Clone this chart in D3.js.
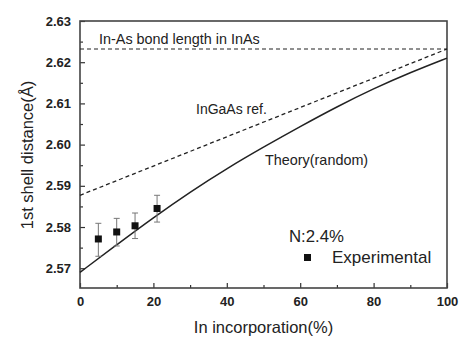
<!DOCTYPE html>
<html>
<head>
<meta charset="utf-8">
<script src="https://cdn.jsdelivr.net/npm/d3@7"></script>
<style>
  body { margin: 0; background: #fff; }
  text { font-family: "Liberation Sans", Arial, sans-serif; fill: #222; }
</style>
</head>
<body>
<div id="wrapper"></div>
<script>
// data
const xTicks = [0, 20, 40, 60, 80, 100];
const yTicks = [2.57, 2.58, 2.59, 2.60, 2.61, 2.62, 2.63];

const theoryX = [0, 10, 20, 30, 40, 50, 60, 70, 80, 90, 100];
const theoryY = [2.5690, 2.5757, 2.5823, 2.5885, 2.5942, 2.5994, 2.6044, 2.6092, 2.6136, 2.6175, 2.6210];

const refX = [0, 100];
const refY = [2.5877, 2.6232];

const inAsBond = 2.6232;

const expX = [5, 10, 15, 21];
const expY = [2.5771, 2.5788, 2.5803, 2.5845];
const expLow = [2.5729, 2.5754, 2.5772, 2.5812];
const expHigh = [2.5809, 2.5821, 2.5834, 2.5877];

async function drawChart() {
  // 1. dimensions
  let dimensions = {
    width: 459,
    height: 338,
    margin: { top: 21, right: 12, bottom: 50, left: 80 },
  };
  dimensions.boundedWidth = dimensions.width - dimensions.margin.left - dimensions.margin.right;
  dimensions.boundedHeight = dimensions.height - dimensions.margin.top - dimensions.margin.bottom;

  // 2. scales
  const xScale = d3.scaleLinear().domain([0, 100]).range([0, dimensions.boundedWidth]);
  const yScale = d3.scaleLinear().domain([2.5652, 2.63]).range([dimensions.boundedHeight, 0]);

  // 3. canvas
  const wrapper = d3.select("#wrapper")
    .append("svg")
    .attr("width", dimensions.width)
    .attr("height", dimensions.height);

  const bounds = wrapper.append("g")
    .attr("transform", `translate(${dimensions.margin.left},${dimensions.margin.top})`);

  // 4. axes (ticks point inward)
  const xAxis = d3.axisBottom(xScale).tickValues(xTicks).tickSize(-5).tickPadding(9).tickFormat(d3.format("d"));
  const xMinor = d3.axisBottom(xScale).tickValues(d3.range(10, 100, 20)).tickSize(-3).tickFormat("");
  const yAxis = d3.axisLeft(yScale).tickValues(yTicks).tickSize(-5).tickPadding(9).tickFormat(d3.format(".2f"));
  const yMinor = d3.axisLeft(yScale).tickValues([2.575, 2.585, 2.595, 2.605, 2.615, 2.625]).tickSize(-3).tickFormat("");

  const styleAxis = (g) => {
    g.select(".domain").remove();
    g.selectAll(".tick line").attr("stroke", "#333").attr("stroke-width", 1.2);
    g.selectAll(".tick text")
      .style("font-family", "'Liberation Sans', Arial, sans-serif")
      .style("font-size", "13px")
      .style("font-weight", "bold")
      .attr("fill", "#333");
  };

  bounds.append("g").attr("transform", `translate(0,${dimensions.boundedHeight})`).call(xAxis).call(styleAxis);
  bounds.append("g").attr("transform", `translate(0,${dimensions.boundedHeight})`).call(xMinor).call(styleAxis);
  bounds.append("g").call(yAxis).call(styleAxis);
  bounds.append("g").call(yMinor).call(styleAxis);

  // frame
  bounds.append("rect")
    .attr("width", dimensions.boundedWidth)
    .attr("height", dimensions.boundedHeight)
    .attr("fill", "none")
    .attr("stroke", "#444")
    .attr("stroke-width", 1.6);

  // 5. lines
  const line = d3.line().x((d) => xScale(d[0])).y((d) => yScale(d[1]));

  bounds.append("path")
    .datum([[0, inAsBond], [100, inAsBond]])
    .attr("d", line)
    .attr("fill", "none")
    .attr("stroke", "#222")
    .attr("stroke-width", 1.1)
    .attr("stroke-dasharray", "4,3");

  bounds.append("path")
    .datum(refX.map((x, i) => [x, refY[i]]))
    .attr("d", line)
    .attr("fill", "none")
    .attr("stroke", "#222")
    .attr("stroke-width", 1.3)
    .attr("stroke-dasharray", "4,3");

  bounds.append("path")
    .datum(theoryX.map((x, i) => [x, theoryY[i]]))
    .attr("d", line.curve(d3.curveBasis))
    .attr("fill", "none")
    .attr("stroke", "#222")
    .attr("stroke-width", 1.5);

  // error bars
  const exp = expX.map((x, i) => ({ x: x, y: expY[i], lo: expLow[i], hi: expHigh[i] }));
  const eb = bounds.append("g").selectAll("g").data(exp).join("g");
  eb.append("line")
    .attr("x1", (d) => xScale(d.x)).attr("x2", (d) => xScale(d.x))
    .attr("y1", (d) => yScale(d.lo)).attr("y2", (d) => yScale(d.hi))
    .attr("stroke", "#777").attr("stroke-width", 1);
  eb.selectAll(".cap")
    .data((d) => [d.lo, d.hi])
    .join("line")
    .attr("class", "cap")
    .attr("x1", function () { return xScale(d3.select(this.parentNode).datum().x) - 3; })
    .attr("x2", function () { return xScale(d3.select(this.parentNode).datum().x) + 3; })
    .attr("y1", (v) => yScale(v)).attr("y2", (v) => yScale(v))
    .attr("stroke", "#777").attr("stroke-width", 1);
  eb.append("rect")
    .attr("x", (d) => xScale(d.x) - 3.5)
    .attr("y", (d) => yScale(d.y) - 3.5)
    .attr("width", 7).attr("height", 7)
    .attr("fill", "#111");

  // 6. annotations
  const ann = (x, y, txt, size) =>
    wrapper.append("text").attr("x", x).attr("y", y).style("font-size", size + "px").text(txt);

  ann(99, 44, "In-As bond length in InAs", 14.4);
  ann(196, 114, "InGaAs ref.", 14);
  ann(265, 165, "Theory(random)", 14.4);
  ann(289, 242, "N:2.4%", 16.8);
  ann(332, 263, "Experimental", 17);
  wrapper.append("rect").attr("x", 304).attr("y", 254).attr("width", 7).attr("height", 7).attr("fill", "#111");

  // axis titles
  wrapper.append("text")
    .attr("x", dimensions.margin.left + dimensions.boundedWidth / 2)
    .attr("y", 333)
    .attr("text-anchor", "middle")
    .style("font-size", "16.5px")
    .text("In incorporation(%)");

  wrapper.append("text")
    .attr("transform", `translate(33,155) rotate(-90)`)
    .attr("text-anchor", "middle")
    .style("font-size", "16.5px")
    .text("1st shell distance(Å)");
}
drawChart();
</script>
</body>
</html>
